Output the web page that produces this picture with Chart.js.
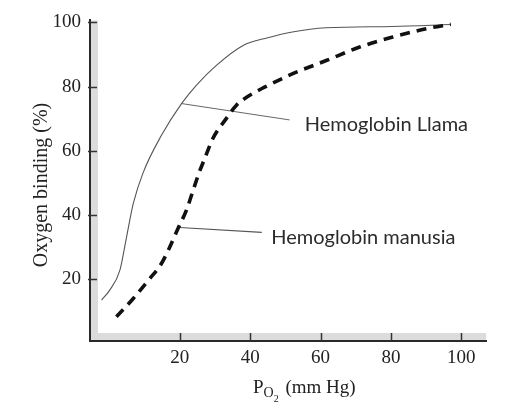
<!DOCTYPE html>
<html>
<head>
<meta charset="utf-8">
<script src="https://cdn.jsdelivr.net/npm/chart.js@4/dist/chart.umd.min.js"></script>
<style>
html,body{margin:0;padding:0;background:#fff;}
canvas{display:block;}
</style>
</head>
<body>
<canvas id="c" width="515" height="408"></canvas>
<script>
// ---- data ----
const xTicks = [20, 40, 60, 80, 100];
const yTicks = [20, 40, 60, 80, 100];

const llamaLabel = 'Hemoglobin Llama';
const llamaX = [-2.2, 0.1, 3.0, 4.9, 6.8, 9.6, 14.8, 20.5, 24.7, 30.4, 38.0, 45.0, 52.0, 61.6, 80.4, 97.0];
const llamaY = [13.5, 16.6, 22.8, 33.2, 43.6, 53.2, 64.8, 74.7, 80.4, 86.6, 92.8, 95.2, 97.0, 98.3, 98.7, 99.3];

const manusiaLabel = 'Hemoglobin manusia';
const manusiaX = [2.0, 6.8, 11.5, 14.8, 17.2, 19.5, 21.9, 23.8, 25.5, 27.1, 29.4, 33.2, 36.1, 39.9, 44.1, 52.1, 61.6, 71.1, 80.5, 90.0, 97.0];
const manusiaY = [8.3, 14.0, 20.2, 24.9, 30.1, 35.8, 41.5, 47.7, 53.2, 57.6, 63.8, 70.0, 74.2, 77.3, 79.8, 84.0, 88.1, 92.3, 95.4, 98.0, 99.4];

// leader lines from each curve to its label (value coordinates)
const llamaPointerX = [20.5, 51.2];
const llamaPointerY = [74.7, 69.6];
const manusiaPointerX = [20.0, 43.3];
const manusiaPointerY = [36.1, 34.6];

const toXY = (xs, ys) => xs.map((x, i) => ({x: x, y: ys[i]}));

const SERIF = '"Liberation Serif", "DejaVu Serif", serif';
const SANS = 'Lato, "Open Sans", sans-serif';

const decor = {
  id: 'decor',
  beforeDatasetsDraw(chart) {
    const {ctx, chartArea: a} = chart;
    ctx.save();
    ctx.fillStyle = '#dcdcdc';
    ctx.fillRect(a.left + 1, a.top, 7, a.bottom - a.top - 1);
    ctx.fillRect(a.left + 1, a.bottom - 8, a.right - a.left - 1, 7);
    // inner tick marks
    ctx.strokeStyle = '#333';
    ctx.lineWidth = 1.5;
    const xs = chart.scales.x, ys = chart.scales.y;
    xTicks.forEach(v => {
      const px = Math.round(xs.getPixelForValue(v)) + 0.5;
      ctx.beginPath(); ctx.moveTo(px, a.bottom - 8); ctx.lineTo(px, a.bottom); ctx.stroke();
    });
    yTicks.forEach(v => {
      const py = Math.round(ys.getPixelForValue(v)) + 0.5;
      ctx.beginPath(); ctx.moveTo(a.left - 2, py); ctx.lineTo(a.left + 7, py); ctx.stroke();
    });
    ctx.restore();
  },
  afterDraw(chart) {
    const {ctx} = chart;
    const xs = chart.scales.x, ys = chart.scales.y;
    ctx.save();
    // curve labels
    ctx.fillStyle = '#2b2b2b';
    ctx.font = '20px ' + SANS;
    ctx.textAlign = 'left';
    ctx.textBaseline = 'alphabetic';
    ctx.fillText(llamaLabel, xs.getPixelForValue(55.5), ys.getPixelForValue(66.2));
    ctx.fillText(manusiaLabel, xs.getPixelForValue(46.0), ys.getPixelForValue(31.1));

    // y axis title
    ctx.fillStyle = '#222';
    ctx.font = '20px ' + SERIF;
    ctx.save();
    ctx.translate(42, 185);
    ctx.rotate(-Math.PI / 2);
    ctx.textAlign = 'center';
    ctx.textBaseline = 'middle';
    ctx.fillText('Oxygen binding (%)', 0, 0);
    ctx.restore();

    // x axis title: P with subscript O2
    ctx.textAlign = 'left';
    ctx.textBaseline = 'alphabetic';
    let x = 253;
    ctx.font = '19px ' + SERIF;
    ctx.fillText('P', x, 393); x += ctx.measureText('P').width;
    ctx.font = '14px ' + SERIF;
    ctx.fillText('O', x, 397); x += ctx.measureText('O').width;
    ctx.font = '10px ' + SERIF;
    ctx.fillText('2', x, 401.5); x += ctx.measureText('2').width;
    ctx.font = '19px ' + SERIF;
    ctx.fillText(' (mm Hg)', x + 2, 393);
    ctx.restore();
  }
};

new Chart(document.getElementById('c'), {
  type: 'scatter',
  data: {
    datasets: [
      {
        label: manusiaLabel,
        data: toXY(manusiaX, manusiaY),
        showLine: true,
        borderColor: '#111',
        borderWidth: 3.6,
        borderDash: [10, 7],
        pointRadius: 0,
        tension: 0.4,
        cubicInterpolationMode: 'monotone'
      },
      {
        label: llamaLabel,
        data: toXY(llamaX, llamaY),
        showLine: true,
        borderColor: '#555',
        borderWidth: 1.1,
        pointRadius: 0,
        tension: 0.4,
        cubicInterpolationMode: 'monotone'
      },
      {
        label: 'llama pointer',
        data: toXY(llamaPointerX, llamaPointerY),
        showLine: true,
        borderColor: '#666',
        borderWidth: 1,
        pointRadius: 0
      },
      {
        label: 'manusia pointer',
        data: toXY(manusiaPointerX, manusiaPointerY),
        showLine: true,
        borderColor: '#555',
        borderWidth: 1.2,
        pointRadius: 0
      }
    ]
  },
  options: {
    responsive: false,
    animation: false,
    layout: {padding: {top: 20, right: 29, left: 0, bottom: 0}},
    plugins: {legend: {display: false}, tooltip: {enabled: false}},
    scales: {
      x: {
        type: 'linear',
        min: -5.5,
        max: 107,
        afterBuildTicks: s => { s.ticks = xTicks.map(v => ({value: v})); },
        afterFit: s => { s.height = 67; },
        ticks: {font: {family: SERIF, size: 19}, color: '#222', padding: 6, maxRotation: 0},
        grid: {drawOnChartArea: false, drawTicks: false},
        border: {display: true, color: '#2a2a2a', width: 2}
      },
      y: {
        type: 'linear',
        min: 0.75,
        max: 100.6,
        afterBuildTicks: s => { s.ticks = yTicks.map(v => ({value: v})); },
        afterFit: s => { s.width = 90; },
        ticks: {font: {family: SERIF, size: 19}, color: '#222', padding: 9},
        grid: {drawOnChartArea: false, drawTicks: false},
        border: {display: true, color: '#2a2a2a', width: 2}
      }
    }
  },
  plugins: [decor]
});
</script>
</body>
</html>
